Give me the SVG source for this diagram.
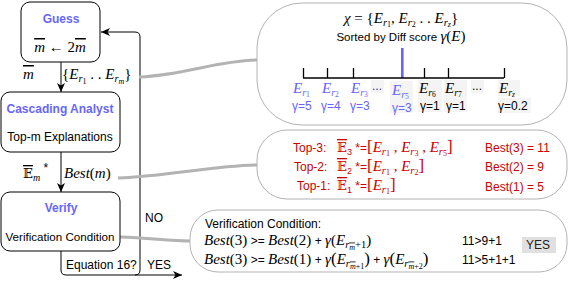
<svg xmlns="http://www.w3.org/2000/svg" width="571" height="284" viewBox="0 0 571 284">
<defs>
<style>
.box{fill:#fff;stroke:#000;stroke-width:1}
.bub{fill:#fff;stroke:#b3b3b3;stroke-width:1}
.s{font-family:"Liberation Sans",Arial,sans-serif}
.m{font-family:"Liberation Serif","Times New Roman",serif;font-style:italic}
.u{font-style:normal}
.bb{font-family:"DejaVu Serif","DejaVu Sans",serif;font-style:normal}
.ov{text-decoration:overline}
.blue{fill:#6666ff}
.red{fill:#cc0000}
.ttl{font-family:"Liberation Sans",Arial,sans-serif;font-weight:bold;font-size:12px;fill:#6666ff}
.ln{fill:none;stroke:#000;stroke-width:1}
.gl{fill:none;stroke:#b3b3b3;stroke-width:3}
.tick{stroke:#000;stroke-width:1.3}
.pale{fill:#f4f4f4}
</style>
<marker id="ar" markerUnits="userSpaceOnUse" markerWidth="10" markerHeight="10" refX="9" refY="5" orient="auto">
<path d="M0,1 L9,5 L0,9 L2.5,5 Z" fill="#000"/>
</marker>
</defs>

<g id="connectors">
<line class="ln" x1="61" y1="62" x2="61" y2="92" marker-end="url(#ar)"/>
<line class="ln" x1="61" y1="152" x2="61" y2="192" marker-end="url(#ar)"/>
<path class="ln" d="M61,251 L61,270 Q61,275 66,275 L135,275 Q140,275 140,270 L140,37 Q140,32 135,32 L101,32" marker-end="url(#ar)"/>
<path class="ln" d="M135,275 L182,275" marker-end="url(#ar)"/>
<path class="gl" d="M139,77 C185,75 215,61 257,60"/>
<path class="gl" d="M118,178 C170,176 210,166 257,165"/>
<path class="gl" d="M120,237 C150,238 170,241 190,241"/>
</g>

<g id="guess">
<rect class="box" x="21" y="2" width="79" height="60" rx="9"/>
<text class="ttl" x="61" y="23" text-anchor="middle">Guess</text>
<text class="m" x="60" y="52" font-size="15" text-anchor="middle"><tspan class="ov">m</tspan><tspan class="u"> ← 2</tspan><tspan class="ov">m</tspan></text>
</g>

<g id="cascading">
<rect class="box" x="1" y="92" width="119" height="60" rx="9"/>
<text class="ttl" x="60" y="113" text-anchor="middle">Cascading Analyst</text>
<text class="s" x="60" y="141" font-size="12" text-anchor="middle">Top-m Explanations</text>
</g>

<g id="verify">
<rect class="box" x="1" y="192" width="119" height="59" rx="9"/>
<text class="ttl" x="61" y="212" text-anchor="middle">Verify</text>
<text class="s" x="60" y="241" font-size="11.6" text-anchor="middle">Verification Condition</text>
</g>

<g id="edge-labels">
<text class="m" x="23" y="79" font-size="15"><tspan class="ov">m</tspan></text>
<text class="m" x="62" y="79" font-size="15"><tspan class="u">{</tspan>E<tspan font-size="10.5" dy="3">r</tspan><tspan class="u" font-size="8" dy="1.5">1</tspan><tspan class="u" dy="-4.5"> . . </tspan>E<tspan font-size="10.5" dy="3">r</tspan><tspan font-size="8" dy="1.5">m</tspan><tspan class="u" dy="-4.5">}</tspan></text>
<text x="23" y="178" font-size="15"><tspan class="bb ov" font-size="13">𝔼</tspan><tspan class="m" font-size="10" dy="3">m</tspan><tspan class="s" font-size="12" dy="-9"> *</tspan></text>
<text class="m" x="64" y="178" font-size="15">Best<tspan class="u">(</tspan>m<tspan class="u">)</tspan></text>
<text class="s" x="66" y="269" font-size="12">Equation 16?</text>
<text class="s" x="145" y="222" font-size="12">NO</text>
<text class="s" x="147" y="269" font-size="12">YES</text>
</g>

<g id="sorted-bubble">
<rect class="bub" x="257" y="3" width="310" height="122" rx="45" ry="45"/>
<text class="m" x="401" y="23" font-size="15" text-anchor="middle">χ<tspan class="u"> = {</tspan>E<tspan font-size="10.5" dy="2.5">r</tspan><tspan class="u" font-size="8" dy="1">1</tspan><tspan class="u" dy="-3.5">, </tspan>E<tspan font-size="10.5" dy="2.5">r</tspan><tspan class="u" font-size="8" dy="1">2</tspan><tspan class="u" dy="-3.5"> . . </tspan>E<tspan font-size="10.5" dy="2.5">r</tspan><tspan font-size="8" dy="1">z</tspan><tspan class="u" dy="-3.5">}</tspan></text>
<text x="401" y="41" text-anchor="middle"><tspan class="s" font-size="11.5">Sorted by Diff score </tspan><tspan class="m" font-size="15">γ<tspan class="u">(</tspan>E<tspan class="u">)</tspan></tspan></text>
<rect class="pale" x="371" y="80" width="13" height="13"/>
<rect class="pale" x="390" y="81" width="23" height="32"/>
<rect class="pale" x="418" y="80" width="24" height="32"/>
<rect class="pale" x="444" y="80" width="23" height="32"/>
<rect class="pale" x="471" y="80" width="13" height="13"/>
<rect class="pale" x="498" y="80" width="22" height="16"/>
<rect class="pale" x="498" y="98" width="33" height="15"/>
<rect x="401" y="48" width="2.6" height="30" fill="#6666ff"/>
<line class="tick" x1="303" y1="78" x2="504" y2="78"/>
<line class="tick" x1="303.5" y1="68" x2="303.5" y2="78"/>
<line class="tick" x1="327.5" y1="68" x2="327.5" y2="78"/>
<line class="tick" x1="353.5" y1="68" x2="353.5" y2="78"/>
<line class="tick" x1="424.5" y1="68" x2="424.5" y2="78"/>
<line class="tick" x1="448.5" y1="68" x2="448.5" y2="78"/>
<line class="tick" x1="504.5" y1="68" x2="504.5" y2="78"/>
<g class="blue">
<text class="m" x="293" y="93" font-size="15">E<tspan font-size="10" dy="2.5">r</tspan><tspan class="u" font-size="7.5" dy="1">1</tspan></text>
<text class="m" x="322" y="93" font-size="15">E<tspan font-size="10" dy="2.5">r</tspan><tspan class="u" font-size="7.5" dy="1">2</tspan></text>
<text class="m" x="351" y="93" font-size="15">E<tspan font-size="10" dy="2.5">r</tspan><tspan class="u" font-size="7.5" dy="1">3</tspan></text>
<text class="s" x="372" y="90" font-size="12" fill="#333399">...</text>
<text class="m" x="392" y="95" font-size="15">E<tspan font-size="10" dy="2.5">r</tspan><tspan class="u" font-size="7.5" dy="1">5</tspan></text>
<text class="s" x="292" y="110" font-size="12">γ=5</text>
<text class="s" x="321" y="110" font-size="12">γ=4</text>
<text class="s" x="350" y="110" font-size="12">γ=3</text>
<text class="s" x="392" y="112" font-size="12">γ=3</text>
</g>
<text class="m" x="419" y="93" font-size="15">E<tspan font-size="10" dy="2.5">r</tspan><tspan class="u" font-size="7.5" dy="1">6</tspan></text>
<text class="m" x="445" y="93" font-size="15">E<tspan font-size="10" dy="2.5">r</tspan><tspan class="u" font-size="7.5" dy="1">7</tspan></text>
<text class="s" x="472" y="90" font-size="12">...</text>
<text class="m" x="499" y="93" font-size="15">E<tspan font-size="10" dy="2.5">r</tspan><tspan font-size="7.5" dy="1">z</tspan></text>
<text class="s" x="420" y="110" font-size="12">γ=1</text>
<text class="s" x="446" y="110" font-size="12">γ=1</text>
<text class="s" x="498" y="110" font-size="12">γ=0.2</text>
</g>

<g id="topm-bubble" class="red">
<rect class="bub" x="257" y="130" width="310" height="69" rx="30" ry="30"/>
<text class="s" x="293" y="152" font-size="12">Top-3:</text>
<text x="337" y="152" font-size="15"><tspan class="bb ov" font-size="13">𝔼</tspan><tspan class="s" font-size="9" dy="3">3</tspan><tspan class="s" font-size="12" dy="-3"> *=</tspan><tspan class="m u" font-size="17">[</tspan><tspan class="m">E</tspan><tspan class="m" font-size="10.5" dy="2.5">r</tspan><tspan class="m u" font-size="8" dy="1.5">1</tspan><tspan class="m u" dy="-4"> , </tspan><tspan class="m">E</tspan><tspan class="m" font-size="10.5" dy="2.5">r</tspan><tspan class="m u" font-size="8" dy="1.5">3</tspan><tspan class="m u" dy="-4"> , </tspan><tspan class="m">E</tspan><tspan class="m" font-size="10.5" dy="2.5">r</tspan><tspan class="m u" font-size="8" dy="1.5">5</tspan><tspan class="m u" font-size="17" dy="-4">]</tspan></text>
<text class="s" x="485" y="152" font-size="12">Best(3) = 11</text>
<text class="s" x="294" y="171" font-size="12">Top-2:</text>
<text x="337" y="171" font-size="15"><tspan class="bb ov" font-size="13">𝔼</tspan><tspan class="s" font-size="9" dy="3">2</tspan><tspan class="s" font-size="12" dy="-3"> *=</tspan><tspan class="m u" font-size="17">[</tspan><tspan class="m">E</tspan><tspan class="m" font-size="10.5" dy="2.5">r</tspan><tspan class="m u" font-size="8" dy="1.5">1</tspan><tspan class="m u" dy="-4"> , </tspan><tspan class="m">E</tspan><tspan class="m" font-size="10.5" dy="2.5">r</tspan><tspan class="m u" font-size="8" dy="1.5">2</tspan><tspan class="m u" font-size="17" dy="-4">]</tspan></text>
<text class="s" x="485" y="171" font-size="12">Best(2) = 9</text>
<text class="s" x="297" y="190" font-size="12">Top-1:</text>
<text x="337" y="190" font-size="15"><tspan class="bb ov" font-size="13">𝔼</tspan><tspan class="s" font-size="9" dy="3">1</tspan><tspan class="s" font-size="12" dy="-3"> *=</tspan><tspan class="m u" font-size="17">[</tspan><tspan class="m">E</tspan><tspan class="m" font-size="10.5" dy="2.5">r</tspan><tspan class="m u" font-size="8" dy="1.5">1</tspan><tspan class="m u" font-size="17" dy="-4">]</tspan></text>
<text class="s" x="485" y="191" font-size="12">Best(1) = 5</text>
</g>

<g id="verification-bubble">
<rect class="bub" x="190" y="210" width="377" height="62" rx="28" ry="28"/>
<text class="s" x="205" y="228" font-size="12">Verification Condition:</text>
<text class="m" x="204" y="245" font-size="15">Best<tspan class="u">(3)</tspan><tspan class="s u" font-size="12"> &gt;= </tspan>Best<tspan class="u">(2)</tspan><tspan class="s u" font-size="12"> + </tspan>γ<tspan class="u">(</tspan>E<tspan font-size="10.5" dy="3">r</tspan><tspan class="ov" font-size="8" dy="1.5">m</tspan><tspan class="u" font-size="10.5" dy="-1.5">+1</tspan><tspan class="u" dy="-3">)</tspan></text>
<text class="s" x="462" y="245" font-size="12">11&gt;9+1</text>
<rect x="522" y="237" width="34" height="16" fill="#e0e0e0"/>
<text class="s" x="526" y="249" font-size="12" fill="#222">YES</text>
<text class="m" x="204" y="264" font-size="15">Best<tspan class="u">(3)</tspan><tspan class="s u" font-size="12"> &gt;= </tspan>Best<tspan class="u">(1)</tspan><tspan class="s u" font-size="12"> + </tspan>γ<tspan class="u" font-size="17">(</tspan>E<tspan font-size="10.5" dy="3">r</tspan><tspan font-size="8" dy="1.5"><tspan class="ov">m</tspan><tspan class="u">+1</tspan></tspan><tspan class="u" font-size="17" dy="-4.5">)</tspan><tspan class="s u" font-size="12"> + </tspan>γ<tspan class="u" font-size="17">(</tspan>E<tspan font-size="10.5" dy="3">r</tspan><tspan font-size="8" dy="1.5"><tspan class="ov">m</tspan><tspan class="u">+2</tspan></tspan><tspan class="u" font-size="17" dy="-4.5">)</tspan></text>
<text class="s" x="462" y="264" font-size="12">11&gt;5+1+1</text>
</g>
</svg>
